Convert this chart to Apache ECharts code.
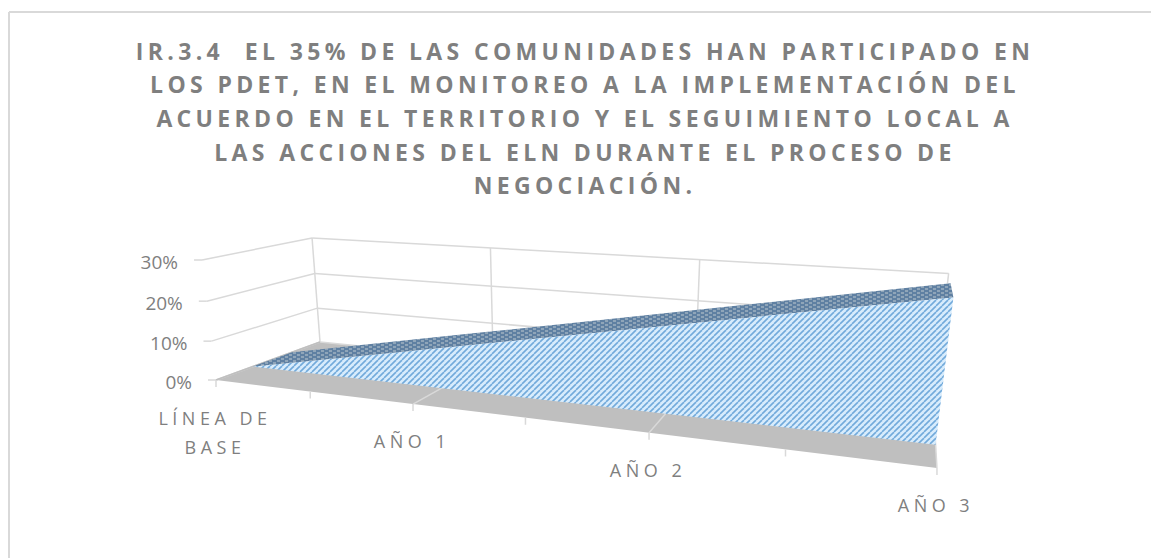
<!DOCTYPE html>
<html>
<head>
<meta charset="utf-8">
<style>
  html, body { margin: 0; padding: 0; background: #fff; }
  #chart { width: 1151px; height: 558px; }
  /* ECharts has no letter spacing option, the svg text takes it from css */
  #chart text[style*="bold"] { letter-spacing: 4.35px; }
  #chart text[style*="18px"] { letter-spacing: 4.5px; }
</style>
<script src="https://cdn.jsdelivr.net/npm/echarts@6/dist/echarts.min.js"></script>
</head>
<body>
<div id="chart"></div>
<script>
const titleText = 'IR.3.4  EL 35% DE LAS COMUNIDADES HAN PARTICIPADO EN\nLOS PDET, EN EL MONITOREO A LA IMPLEMENTACIÓN DEL\nACUERDO EN EL TERRITORIO Y EL SEGUIMIENTO LOCAL A\nLAS ACCIONES DEL ELN DURANTE EL PROCESO DE\nNEGOCIACIÓN.';
const categories = ['LÍNEA DE\nBASE', 'AÑO 1', 'AÑO 2', 'AÑO 3'];
const areaValues = [0, 0.1, 0.2, 0.3];
const valueTicks = [0, 0.1, 0.2, 0.3];
const valueLabels = ['0%', '10%', '20%', '30%'];
const minorTicks = [0.5, 1.5, 2.5];

const gridColor = '#d9d9d9';
const textColor = '#7f7f7f';
const floorColor = '#bfbfbf';
// the area sits in the middle of the depth axis
const areaFront = 0.32;
const areaBack = 0.7;

// perspective of the excel 3d box. u, v, w go 0..1 along category, value, depth
// x and y terms: 1, u, v, w, u*w, u*v
const cam = {
  x: [216, 488.6, -22.6, 156.2, -6.9, -3.8],
  y: [380, -28.1, -131.1, 17.7, 0, 0],
  d: [1, -0.248, -0.0427, 0.163]
};

function project(api, cat, val, w) {
  const p = api.coord([cat, val]);
  const u = p[0] / api.getWidth();
  const v = 1 - p[1] / api.getHeight();
  const d = cam.d[0] + cam.d[1] * u + cam.d[2] * v + cam.d[3] * w;
  const along = (c) => c[0] + c[1] * u + c[2] * v + c[3] * w + c[4] * u * w + c[5] * u * v;
  return [along(cam.x) / d, along(cam.y) / d];
}

function gridLine(a, b, color) {
  return {
    type: 'line',
    shape: { x1: a[0], y1: a[1], x2: b[0], y2: b[1] },
    style: { stroke: color || gridColor, lineWidth: 1.5 }
  };
}

function label(text, x, y, align, fontSize) {
  return {
    type: 'text',
    style: {
      text, x, y,
      align,
      verticalAlign: 'middle',
      fill: textColor,
      font: fontSize + 'px "Open Sans"',
      lineHeight: 29
    }
  };
}

function makeTile(w, h, draw) {
  const c = document.createElement('canvas');
  c.width = w;
  c.height = h;
  draw(c.getContext('2d'));
  return c;
}

const frontTile = makeTile(6, 6, (ctx) => {
  ctx.fillStyle = '#d8ecfc';
  ctx.fillRect(0, 0, 6, 6);
  ctx.strokeStyle = '#72aadb';
  ctx.lineWidth = 1.6;
  [-6, 0, 6].forEach((o) => {
    ctx.beginPath();
    ctx.moveTo(o, 6);
    ctx.lineTo(o + 6, 0);
    ctx.stroke();
  });
});

const topTile = makeTile(8, 4, (ctx) => {
  ctx.fillStyle = '#8fa5b9';
  ctx.fillRect(0, 0, 8, 4);
  ctx.fillStyle = '#5f80a2';
  ctx.fillRect(0, 0, 5, 2);
  ctx.fillRect(4, 2, 4, 2);
  ctx.fillRect(0, 2, 1, 2);
});

const renderFloor = (params, api) => ({
  type: 'polygon',
  shape: {
    points: [
      project(api, 0, 0, 0),
      project(api, 3, 0, 0),
      project(api, 3, 0, 1),
      project(api, 0, 0, 1)
    ]
  },
  style: { fill: floorColor }
});

const renderValueTick = (params, api) => {
  const v = api.value(0);
  const front = project(api, 0, v, 0);
  const back = project(api, 0, v, 1);
  const right = project(api, 3, v, 1);
  return {
    type: 'group',
    children: [
      gridLine(front, back),
      gridLine(back, right),
      gridLine([front[0] - 8, front[1]], front),
      label(valueLabels[params.dataIndex], front[0] - 24, front[1] + 2, 'right', 19)
    ]
  };
};

const renderCategory = (params, api) => {
  const i = api.value(0);
  const front = project(api, i, 0, 0);
  const back = project(api, i, 0, 1);
  return {
    type: 'group',
    children: [
      gridLine(back, project(api, i, 0.3, 1)),
      gridLine(front, back, i === 0 ? floorColor : gridColor),
      gridLine(front, [front[0], front[1] + 7]),
      label(categories[params.dataIndex], front[0] - 1, front[1] + (i === 0 ? 52 : 37), 'center', 18)
    ]
  };
};

const renderMinorTick = (params, api) => {
  const p = project(api, api.value(0), 0, 0);
  return gridLine(p, [p[0], p[1] + 7]);
};

const renderArea = (params, api) => {
  if (params.dataIndex > 0) return null;
  const frontTop = areaValues.map((v, i) => project(api, i, v, areaFront));
  const backTop = areaValues.map((v, i) => project(api, i, v, areaBack));
  const last = areaValues.length - 1;
  return {
    type: 'group',
    children: [
      {
        type: 'polygon',
        shape: { points: backTop.concat(frontTop.slice().reverse()) },
        style: { fill: { image: topTile, repeat: 'repeat' } }
      },
      {
        type: 'polygon',
        shape: { points: frontTop.concat([project(api, last, 0, areaFront)]) },
        style: { fill: { image: frontTile, repeat: 'repeat' } }
      }
    ]
  };
};

const chart = echarts.init(document.getElementById('chart'), null, { renderer: 'svg' });

chart.setOption({
  animation: false,
  backgroundColor: '#ffffff',
  title: {
    text: titleText,
    left: 580,
    top: 29,
    textAlign: 'center',
    textStyle: {
      color: textColor,
      fontFamily: 'Open Sans',
      fontWeight: 'bold',
      fontSize: 23,
      lineHeight: 33.6
    }
  },
  graphic: [
    { type: 'line', shape: { x1: 9, y1: 12, x2: 1151, y2: 12 }, style: { stroke: gridColor, lineWidth: 2 } },
    { type: 'line', shape: { x1: 9, y1: 12, x2: 9, y2: 558 }, style: { stroke: gridColor, lineWidth: 2 } }
  ],
  grid: { left: 0, right: 0, top: 0, bottom: 0 },
  xAxis: { type: 'value', min: 0, max: 3, show: false },
  yAxis: { type: 'value', min: 0, max: 0.3, show: false },
  tooltip: { show: false },
  series: [
    { type: 'custom', silent: true, clip: false, renderItem: renderFloor, data: [[0, 0]] },
    { type: 'custom', silent: true, clip: false, renderItem: renderValueTick, data: valueTicks.map((v) => [v, 0]) },
    { type: 'custom', silent: true, clip: false, renderItem: renderCategory, data: categories.map((c, i) => [i, 0]) },
    { type: 'custom', silent: true, clip: false, renderItem: renderMinorTick, data: minorTicks.map((t) => [t, 0]) },
    { type: 'custom', silent: true, clip: false, renderItem: renderArea, data: areaValues.map((v, i) => [i, v]) }
  ]
});
</script>
</body>
</html>
